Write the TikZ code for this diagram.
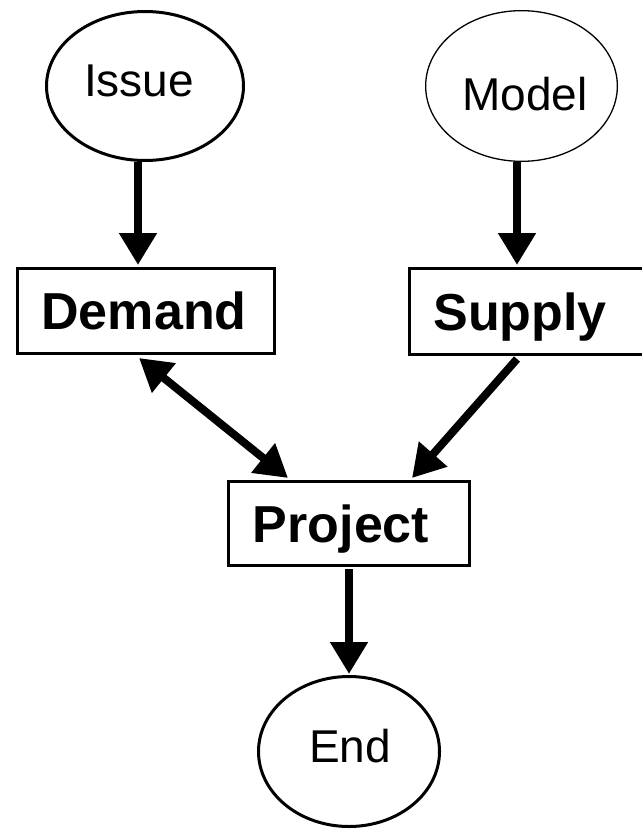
\documentclass[tikz,border=0pt]{standalone}
\usepackage{fontspec}
\setmainfont{Liberation Sans}
\usetikzlibrary{shapes.geometric,arrows.meta}
\begin{document}
\begin{tikzpicture}[x=1pt,y=-1pt,
  oval/.style={ellipse,draw,line width=3pt,inner sep=0pt},
  stepbox/.style={rectangle,draw,line width=3pt,inner sep=0pt},
  plain/.style={font=\fontsize{46}{50}\selectfont,text height=33pt,text depth=0pt,inner sep=0pt},
  heavy/.style={font=\fontsize{52}{56}\selectfont\bfseries,text height=37.5pt,text depth=0pt,inner sep=0pt},
  tip/.style={Triangle[width=36pt,length=32pt]},
  flow/.style={line width=8pt,-{Triangle[width=36pt,length=32pt]}},
  twoway/.style={line width=8pt,{Triangle[width=36pt,length=32pt]}-{Triangle[width=36pt,length=32pt]}},
]
\useasboundingbox (0,0) rectangle (641,829);

% start and end ovals
\node[oval, minimum width=197pt, minimum height=149pt,
  label={[plain,xshift=-6pt,yshift=5.5pt]center:Issue}] (issue) at (145,86) {};
\node[oval, line width=1.3pt, minimum width=191.7pt, minimum height=150.7pt,
  label={[plain,xshift=3.5pt,yshift=-8.5pt]center:Model}] (model) at (521.5,86) {};
\node[oval, minimum width=181pt, minimum height=150pt,
  label={[plain,xshift=1pt,yshift=6pt]center:End}] (end) at (349,751.5) {};

% process boxes
\node[stepbox, minimum width=257pt, minimum height=85pt,
  label={[heavy,xshift=-2pt]center:Demand}] (demand) at (146,311) {};
\node[stepbox, minimum width=250.5pt, minimum height=86pt,
  label={[heavy,xshift=-14.75pt]center:Supply}] (supply) at (534.75,311.5) {};
\node[stepbox, minimum width=241pt, minimum height=84pt,
  label={[heavy,xshift=-8pt]center:Project}] (project) at (349,523.5) {};

% connectors
\draw[flow] ([xshift=-7pt]issue.south) -- ([xshift=-7pt,yshift=2pt]issue.south |- demand.north);
\draw[flow] ([xshift=-4.5pt]model.south) -- ([xshift=-4.5pt,yshift=2pt]model.south |- supply.north);
\draw[twoway] ([xshift=-7pt,yshift=-3pt]demand.south) -- ([xshift=-61pt,yshift=2pt]project.north);
\draw[flow] ([xshift=-17.75pt,yshift=-3pt]supply.south) -- ([xshift=63pt,yshift=2pt]project.north);
\draw[flow] ([yshift=-2pt]project.south) -- ([yshift=1pt]end.north);
\end{tikzpicture}
\end{document}
